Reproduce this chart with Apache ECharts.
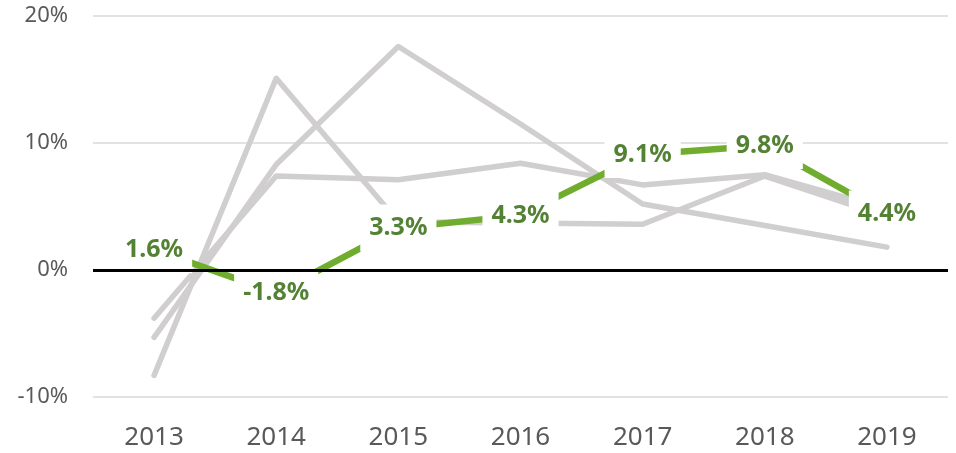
<!DOCTYPE html>
<html>
<head>
<meta charset="utf-8">
<script src="https://cdn.jsdelivr.net/npm/echarts@6/dist/echarts.min.js"></script>
<style>
html, body { margin: 0; padding: 0; background: #fff; }
#chart { width: 956px; height: 453px; }
</style>
</head>
<body>
<div id="chart"></div>
<script>
var years = ['2013', '2014', '2015', '2016', '2017', '2018', '2019'];
var mainValues = [1.6, -1.8, 3.3, 4.3, 9.1, 9.8, 4.4];
var otherA = [-8.3, 15.1, 3.8, 3.7, 3.6, 7.4, 4.2];
var otherB = [-5.3, 8.3, 17.6, 11.5, 5.2, 3.5, 1.8];
var otherC = [-3.8, 7.4, 7.1, 8.4, 6.7, 7.5, 4.8];
var yTicks = { min: -10, max: 20, step: 10 };

var fontName = 'Noto Sans';
var grayLine = '#d0cece';

// gray comparison lines, the first one also carries the black 0% line
function grayLineSeries(name, values, withZeroLine) {
	var s = {
		name: name,
		type: 'line',
		data: values,
		z: 2,
		symbol: 'none',
		silent: true,
		lineStyle: { color: grayLine, width: 5.5, cap: 'round', join: 'round' }
	};
	if (withZeroLine) {
		s.markLine = {
			silent: true,
			symbol: 'none',
			label: { show: false },
			lineStyle: { color: '#000', width: 3, type: 'solid' },
			data: [{ yAxis: 0 }]
		};
	}
	return s;
}

var myChart = echarts.init(document.getElementById('chart'));
var option = {
	backgroundColor: '#fff',
	animation: false,
	grid: { left: 93, right: 8, top: 16, bottom: 56 },
	xAxis: {
		type: 'category',
		data: years,
		boundaryGap: true,
		axisLine: { show: false, onZero: false },
		axisTick: { show: false },
		axisLabel: { color: '#595959', fontFamily: fontName, fontSize: 26, margin: 28 },
		splitLine: { show: false }
	},
	yAxis: {
		type: 'value',
		min: yTicks.min,
		max: yTicks.max,
		interval: yTicks.step,
		axisLine: { show: false },
		axisTick: { show: false },
		axisLabel: {
			color: '#595959', fontFamily: fontName, fontSize: 22, margin: 25,
			formatter: '{value}%'
		},
		splitLine: { lineStyle: { color: '#e2e2e2', width: 2 } }
	},
	series: [
		grayLineSeries('A', otherA, true),
		grayLineSeries('B', otherB, false),
		grayLineSeries('C', otherC, false),
		{
			name: 'main',
			type: 'line',
			data: mainValues,
			z: 3,
			symbol: 'circle',
			symbolSize: 2,
			showSymbol: true,
			silent: true,
			itemStyle: { color: '#70ad2f' },
			lineStyle: { color: '#70ad2f', width: 6.5, cap: 'butt' },
			label: {
				show: true,
				position: 'inside',
				formatter: function (p) { return p.value.toFixed(1) + '%'; },
				color: '#548235',
				fontFamily: fontName,
				fontWeight: 'bold',
				fontSize: 25,
				backgroundColor: '#fff',
				padding: [11, 9]
			}
		}
	]
};
myChart.setOption(option, true);
</script>
</body>
</html>
